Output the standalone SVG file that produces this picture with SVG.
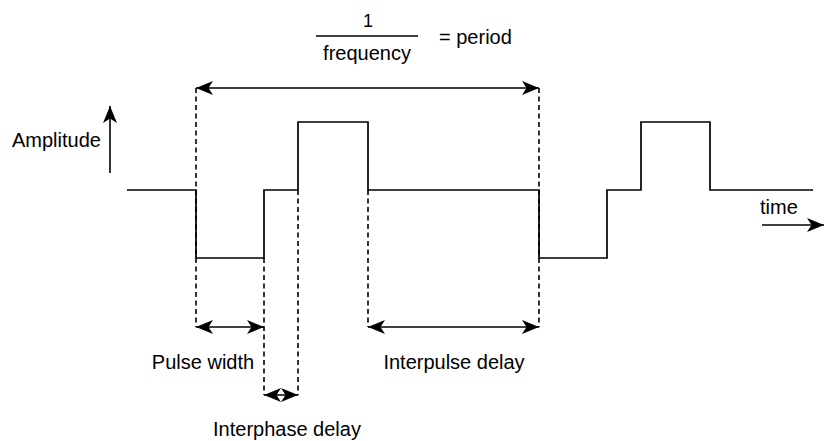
<svg xmlns="http://www.w3.org/2000/svg" width="825" height="441" viewBox="0 0 825 441">
  <style>
    .wave { fill: none; stroke: #000; stroke-width: 1.7; stroke-linejoin: miter; }
    .dash { fill: none; stroke: #000; stroke-width: 1.6; stroke-dasharray: 5 3.5; }
    .dim { fill: none; stroke: #000; stroke-width: 1.6; }
    .lbl { font-family: "Liberation Sans", Arial, Helvetica, sans-serif; font-size: 20px; fill: #000; }
    .mid { text-anchor: middle; }
    .num { font-size: 18px; }
  </style>
  <defs>
    <marker id="arrow" viewBox="0 0 17 14" refX="17" refY="7" markerWidth="17" markerHeight="14" markerUnits="userSpaceOnUse" orient="auto-start-reverse">
      <path d="M0,0 L17,7 L0,14 L4.5,7 Z" fill="#000"/>
    </marker>
  </defs>

  <rect width="825" height="441" fill="#fff"/>

  <!-- biphasic pulse train -->
  <g id="waveform">
    <path class="wave" d="M127,190 H196 V258 H264 V190 H298 V122 H368 V190 H539 V258 H607 V190 H641 V122 H710 V190 H813"/>
  </g>

  <!-- period formula -->
  <g id="period-label">
    <text class="lbl mid num" x="368" y="27">1</text>
    <line x1="316" y1="36" x2="418" y2="36" stroke="#000" stroke-width="1.7"/>
    <text class="lbl mid" x="367" y="60">frequency</text>
    <text class="lbl" x="439" y="44">= period</text>
  </g>

  <!-- axis labels -->
  <g id="amplitude-axis">
    <text class="lbl" x="12" y="147">Amplitude</text>
  </g>
  <g id="time-axis">
    <text class="lbl" x="760" y="214">time</text>
  </g>

  <!-- measurement labels -->
  <g id="pulse-width">
    <text class="lbl mid" x="203" y="369">Pulse width</text>
  </g>
  <g id="interpulse-delay">
    <text class="lbl mid" x="454" y="369">Interpulse delay</text>
  </g>
  <g id="interphase-delay">
    <text class="lbl mid" x="287" y="436">Interphase delay</text>
  </g>

  <g id="connectors">
    <!-- extension lines -->
    <line class="dash" x1="196" y1="88" x2="196" y2="327"/>
    <line class="dash" x1="539" y1="88" x2="539" y2="327"/>
    <line class="dash" x1="264" y1="258" x2="264" y2="395"/>
    <line class="dash" x1="298" y1="190" x2="298" y2="395"/>
    <line class="dash" x1="368" y1="190" x2="368" y2="327"/>

    <!-- dimension arrows -->
    <line class="dim" x1="196" y1="88" x2="539" y2="88" marker-start="url(#arrow)" marker-end="url(#arrow)"/>
    <line class="dim" x1="196" y1="327" x2="264" y2="327" marker-start="url(#arrow)" marker-end="url(#arrow)"/>
    <line class="dim" x1="368" y1="327" x2="539" y2="327" marker-start="url(#arrow)" marker-end="url(#arrow)"/>
    <line class="dim" x1="264" y1="395" x2="298" y2="395" marker-start="url(#arrow)" marker-end="url(#arrow)"/>

    <!-- axis arrows -->
    <line class="dim" x1="110" y1="173" x2="110" y2="106" marker-end="url(#arrow)"/>
    <line class="dim" x1="762" y1="225" x2="824" y2="225" marker-end="url(#arrow)"/>
  </g>
</svg>
